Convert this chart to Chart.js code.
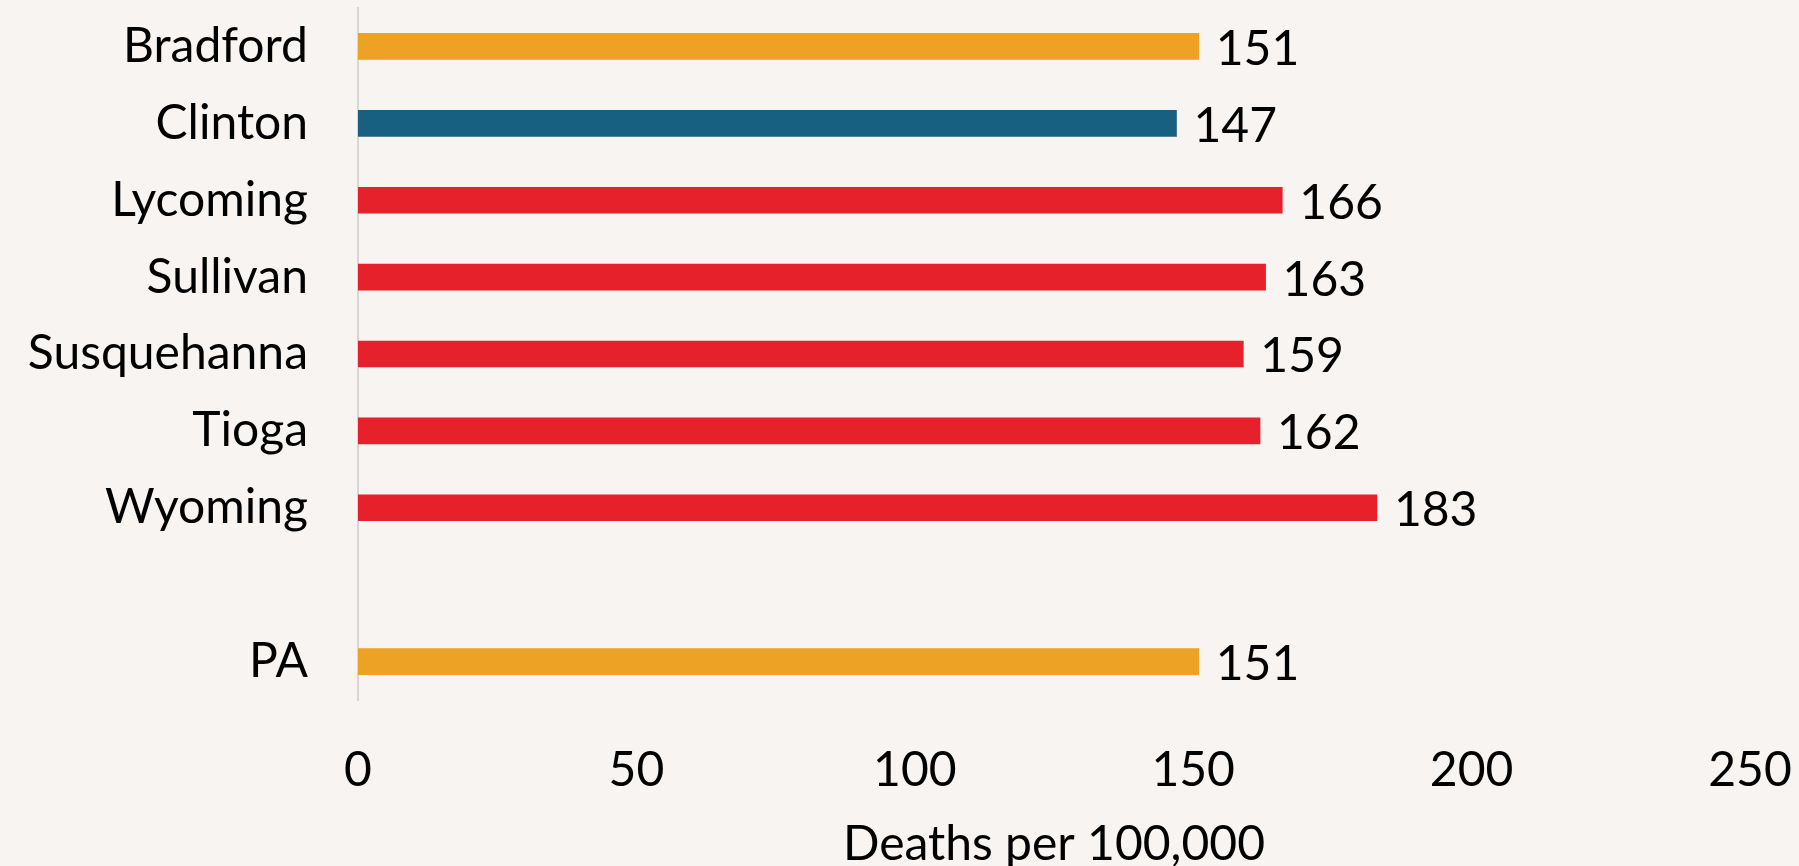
<!DOCTYPE html>
<html>
<head>
<meta charset="utf-8">
<script src="https://cdn.jsdelivr.net/npm/chart.js@4.4.1/dist/chart.umd.min.js"></script>
<style>
  html, body { margin: 0; padding: 0; background: #F7F4F1; }
  #wrap { width: 1799px; height: 866px; }
</style>
</head>
<body>
<div id="wrap"><canvas id="deaths-chart" width="1799" height="866"></canvas></div>
<script>
// counties (blank entry leaves the gap before PA)
const categories = ['Bradford', 'Clinton', 'Lycoming', 'Sullivan', 'Susquehanna', 'Tioga', 'Wyoming', '', 'PA'];
const deaths = [151, 147, 166, 163, 159, 162, 183, null, 151];
const xTicks = [0, 50, 100, 150, 200, 250];

const ORANGE = '#EDA225', BLUE = '#186082', RED = '#E6212B';
const barColors = [ORANGE, BLUE, RED, RED, RED, RED, RED, RED, ORANGE];

const FONT = 'Lato, "Open Sans", sans-serif';

// value labels to the right of each bar
const valueLabels = {
  id: 'valueLabels',
  afterDatasetsDraw(chart) {
    const ctx = chart.ctx;
    const meta = chart.getDatasetMeta(0);
    ctx.save();
    ctx.font = '48px ' + FONT;
    ctx.fillStyle = '#000';
    ctx.textAlign = 'left';
    ctx.textBaseline = 'middle';
    meta.data.forEach((bar, i) => {
      const v = deaths[i];
      if (v == null) return;
      ctx.fillText(String(v), bar.x + 17, bar.y + 3);
    });
    ctx.restore();
  }
};

new Chart(document.getElementById('deaths-chart'), {
  type: 'bar',
  data: {
    labels: categories,
    datasets: [{
      label: 'Deaths per 100,000',
      data: deaths,
      backgroundColor: barColors,
      barThickness: 26
    }]
  },
  options: {
    indexAxis: 'y',
    responsive: false,
    animation: false,
    layout: { padding: { top: 8, right: 49, bottom: 0, left: 0 } },
    plugins: {
      legend: { display: false },
      tooltip: { enabled: false }
    },
    scales: {
      x: {
        min: 0,
        max: 250,
        afterBuildTicks(scale) {
          scale.ticks = xTicks.map(v => ({ value: v }));
        },
        afterFit(scale) {
          scale.height = 166;
          scale.paddingLeft = 0;
          scale.paddingRight = 0;
        },
        grid: { display: false, drawTicks: false },
        border: { display: false },
        ticks: {
          color: '#000',
          font: { family: FONT, size: 48 },
          padding: 42,
          maxRotation: 0
        },
        title: {
          display: true,
          text: 'Deaths per 100,000',
          color: '#000',
          font: { family: FONT, size: 48, lineHeight: 0.9 },
          padding: { top: 0, bottom: 0 }
        }
      },
      y: {
        afterFit(scale) {
          scale.width = 358;
          scale.paddingTop = 0;
          scale.paddingBottom = 0;
        },
        grid: { display: false, drawTicks: false },
        border: { display: true, color: '#D6D6D6', width: 2 },
        ticks: {
          color: '#000',
          font: { family: FONT, size: 48 },
          padding: 50
        }
      }
    }
  },
  plugins: [valueLabels]
});
</script>
</body>
</html>
